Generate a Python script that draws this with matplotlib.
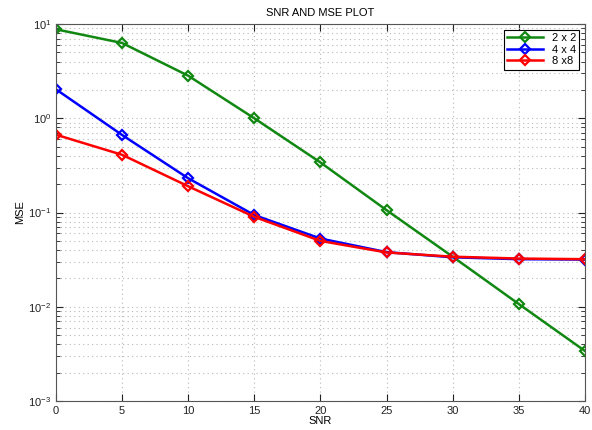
import numpy as np
import matplotlib
matplotlib.use('Agg')
from matplotlib import pyplot as plt
from matplotlib.ticker import LogLocator

plt.rcParams['font.family'] = ['Liberation Sans', 'DejaVu Sans']

snr = [0, 5, 10, 15, 20, 25, 30, 35, 40]
mse_2x2 = [8.8, 6.3, 2.83, 1.0, 0.34, 0.106, 0.034, 0.0107, 0.0034]
mse_4x4 = [2.03, 0.665, 0.231, 0.094, 0.053, 0.038, 0.0335, 0.032, 0.0317]
mse_8x8 = [0.67, 0.41, 0.19, 0.09, 0.05, 0.0377, 0.034, 0.0325, 0.032]
labels = ['2 x 2', '4 x 4', '8 x8']

fig = plt.figure(figsize=(5.92, 4.30), dpi=100)
ax = fig.add_axes([0.0946, 0.0674, 0.8934, 0.8766])

ax.semilogy(snr, mse_2x2, color='#118811', lw=1.8, marker='D', ms=5, mfc='none', mew=1.6, label=labels[0])
ax.semilogy(snr, mse_4x4, color='#0000ff', lw=1.8, marker='D', ms=5, mfc='none', mew=1.6, label=labels[1])
ax.semilogy(snr, mse_8x8, color='#ff0000', lw=1.8, marker='D', ms=5, mfc='none', mew=1.6, label=labels[2])

ax.set_xlim(0, 40)
ax.set_ylim(1e-3, 1e1)
ax.set_xticks(snr)
ax.yaxis.set_major_locator(LogLocator(base=10, numticks=10))
ax.yaxis.set_minor_locator(LogLocator(base=10, subs=np.arange(2, 10), numticks=20))

ax.grid(True, which='major', ls=(0, (1, 3)), color='#b8b8b8', lw=0.8)
ax.grid(True, which='minor', axis='y', ls=(0, (1, 3)), color='#b8b8b8', lw=0.8)
ax.tick_params(which='both', direction='in', top=True, right=True, labelsize=8, colors='#222222')
ax.tick_params(which='major', length=5)
ax.tick_params(which='minor', length=3)
for s in ax.spines.values():
    s.set_color('#555555')

ax.set_title('SNR AND MSE PLOT', fontsize=8, pad=6)
ax.set_xlabel('SNR', fontsize=8, labelpad=0)
ax.set_ylabel('MSE', fontsize=8, labelpad=2)

leg = ax.legend(loc='upper right', fontsize=8, fancybox=False, edgecolor='black', framealpha=1,
                handlelength=3.2, borderaxespad=0.5, labelspacing=0.15, borderpad=0.3)
leg.get_frame().set_linewidth(0.8)

fig.savefig('out.png', dpi=100)
